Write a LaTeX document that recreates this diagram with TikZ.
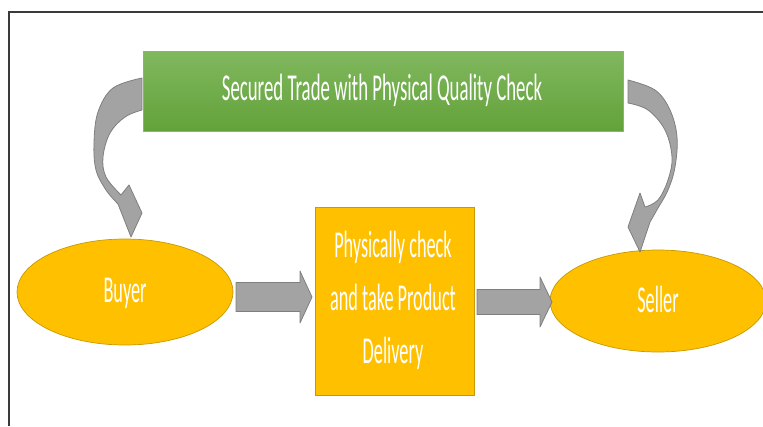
\documentclass[tikz,border=0pt]{standalone}
\usepackage{graphicx}
\usepackage{fontspec}
\setmainfont{Carlito}
\usetikzlibrary{shapes.geometric}

\definecolor{titlegreen}{HTML}{70AD47}
\definecolor{titlegreentop}{HTML}{80B85E}
\definecolor{titlegreenbot}{HTML}{63A23A}
\definecolor{boxorange}{HTML}{FFC000}
\definecolor{boxedge}{HTML}{C79A00}
\definecolor{arrowfill}{HTML}{A3A3A3}
\definecolor{arrowedge}{HTML}{7F7F7F}
\definecolor{framegray}{HTML}{3A3A3A}

% narrow lettering used throughout
\newcommand{\cond}[2][0.48]{\scalebox{#1}[1]{#2}}

\tikzset{
  titlebox/.style={rectangle, draw=titlegreen!85!white, line width=0.6pt,
    top color=titlegreentop, bottom color=titlegreenbot,
    minimum width=480pt, minimum height=80pt, inner sep=0pt},
  party/.style={ellipse, draw=boxedge, line width=0.7pt, fill=boxorange,
    minimum width=216pt, inner sep=0pt},
  stepbox/.style={rectangle, draw=boxedge, line width=0.7pt, fill=boxorange,
    minimum width=159pt, minimum height=188pt, inner sep=0pt},
  label/.style={text=white, inner sep=0pt, anchor=base,
    font=\fontsize{38}{44}\selectfont},
  grayarrow/.style={fill=arrowfill, draw=arrowedge, line width=0.8pt, line join=round},
}

\newcommand{\fatarrow}[6]{% start x, tip x, centre y, shaft half, head half, head length
  \draw[grayarrow] (#1,#3-#4) -- (#2-#6,#3-#4) -- (#2-#6,#3-#5) -- (#2,#3)
    -- (#2-#6,#3+#5) -- (#2-#6,#3+#4) -- (#1,#3+#4) -- cycle;}

\begin{document}
\begin{tikzpicture}[x=1pt,y=-1pt]
  \useasboundingbox (0,0) rectangle (763,426);

  % frame
  \draw[framegray, line width=1.2pt] (763,12) -- (9,12) -- (9,426);

  % boxes
  \node[titlebox] (trade) at (383,91) {};
  \node[party, minimum height=106pt] (buyer) at (125,292) {};
  \node[party, minimum height=102pt] (seller) at (658,301) {};
  \node[stepbox] (check) at (394.5,301) {};

  % texts
  \node[label] at (382,100) {\cond[0.495]{Secured Trade with Physical Quality Check}};
  \node[label] at (125,302) {\cond{Buyer}};
  \node[label] at (658,312) {\cond{Seller}};
  \node[label] at (393,257) {\cond{Physically check}};
  \node[label] at (393,310) {\cond{and take Product}};
  \node[label] at (393,363) {\cond{Delivery}};

  % straight block arrows
  \fatarrow{236}{312}{297}{14.5}{26}{12}
  \fatarrow{477}{552}{302}{12.5}{25}{12}

  % curved arrow: trade -> buyer
  \draw[grayarrow]
    plot[smooth, tension=0.6] coordinates {(142,78) (113,88) (98,112) (94,143) (96,170) (106,190) (118,204)}
    -- (131,237) -- (142,213) -- (129,185) -- (121,195)
    -- plot[smooth, tension=0.6] coordinates {(121,195) (106,177) (103,157) (110,133) (125,117) (142,110)}
    -- cycle;

  % curved arrow: trade -> seller
  \draw[grayarrow]
    plot[smooth, tension=0.6] coordinates {(628,80) (655,90) (670,110) (677,137) (675,167) (668,190) (658,208) (650,222)}
    -- (640,252) -- (628,227) -- (640,193) -- (645,207)
    -- plot[smooth, tension=0.6] coordinates {(645,207) (658,200) (668,180) (672,157) (665,130) (648,110) (628,103)}
    -- cycle;
\end{tikzpicture}
\end{document}
